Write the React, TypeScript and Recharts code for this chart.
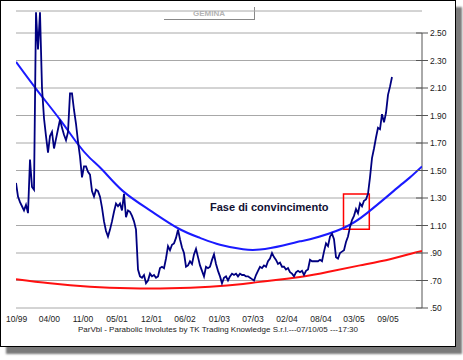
import { LineChart, Line, XAxis, YAxis, CartesianGrid, ReferenceLine, ReferenceArea } from 'recharts';

const priceValues = [
  1.41, 1.31, 1.27, 1.24, 1.21, 1.25, 1.19, 1.58, 1.38, 1.36,
  2.65, 2.38, 2.65, 2.10, 1.88, 1.75, 1.63, 1.75, 1.78, 1.66,
  1.73, 1.80, 1.87, 1.81, 1.76, 1.72, 1.78, 2.06, 2.06, 1.94,
  1.84, 1.71, 1.60, 1.45, 1.53, 1.53, 1.49, 1.47, 1.35, 1.31,
  1.36, 1.35, 1.31, 1.23, 1.13, 1.06, 1.02, 1.07, 1.13, 1.20,
  1.26, 1.24, 1.26, 1.21, 1.33, 1.16, 1.21, 1.20, 1.17, 1.13,
  1.07, 0.78, 0.73, 0.72, 0.74, 0.68, 0.70, 0.75, 0.73, 0.74,
  0.72, 0.73, 0.79, 0.80, 0.79, 0.86, 0.95, 0.92, 0.96, 0.97,
  1.01, 1.07, 1.00, 0.94, 0.90, 0.80, 0.81, 0.84, 0.82, 0.89,
  0.93, 0.87, 0.81, 0.77, 0.73, 0.80, 0.79, 0.80, 0.85, 0.89,
  0.82, 0.77, 0.73, 0.68, 0.72, 0.73, 0.70, 0.73, 0.75, 0.74,
  0.75, 0.73, 0.75, 0.74, 0.74, 0.73, 0.73, 0.72, 0.71, 0.70,
  0.74, 0.77, 0.80, 0.79, 0.81, 0.80, 0.84, 0.86, 0.90, 0.87,
  0.85, 0.82, 0.83, 0.80, 0.80, 0.78, 0.79, 0.76, 0.75, 0.73,
  0.76, 0.77, 0.76, 0.77, 0.74, 0.77, 0.78, 0.85, 0.84, 0.84,
  0.84, 0.84, 0.85, 0.84, 0.91, 0.97, 0.95, 1.02, 1.04, 1.00,
  0.87, 0.86, 0.90, 0.91, 0.92, 0.98, 1.02, 1.09, 1.14, 1.17,
  1.22, 1.19, 1.26, 1.24, 1.28, 1.29, 1.33, 1.45, 1.59, 1.66,
  1.74, 1.81, 1.80, 1.91, 1.85, 1.92, 2.05, 2.11, 2.18,
];

// upper parabola (blue)
const upperT = [0, 10.5, 22, 30.5, 37, 43.5, 53.5, 67, 81, 92, 102, 113.5, 122, 133.5, 142, 147, 163.5, 175.5, 185.5, 192, 197, 203];
const upperV = [2.29, 2.085, 1.87, 1.70, 1.59, 1.50, 1.35, 1.21, 1.08, 1.01, 0.96, 0.927, 0.925, 0.955, 0.985, 1.0, 1.08, 1.19, 1.31, 1.39, 1.45, 1.53];

// lower parabola (red)
const lowerT = [0, 17, 37, 57, 77, 97, 113.5, 122, 142, 157, 172, 187, 197, 203];
const lowerV = [0.71, 0.68, 0.655, 0.643, 0.643, 0.655, 0.675, 0.69, 0.725, 0.765, 0.81, 0.855, 0.893, 0.915];

const xTicks = [0.3, 16.7, 33.5, 50.5, 67.8, 84.5, 101.7, 118.5, 135.5, 152.5, 169, 186];
const xLabels = ['10/99', '04/00', '11/00', '05/01', '12/01', '06/02', '01/03', '07/03', '02/04', '08/04', '03/05', '09/05'];

const yTicks = [0.5, 0.7, 0.9, 1.1, 1.3, 1.5, 1.7, 1.9, 2.1, 2.3, 2.5];
const yLabels = ['.50', '.70', '.90', '1.10', '1.30', '1.50', '1.70', '1.90', '2.10', '2.30', '2.50'];

const X_MAX = 203;
const BOX = { x1: 163.75, x2: 176.65, y1: 1.072, y2: 1.329 };

const priceData = priceValues.map((v, i) => ({ t: i, price: v }));
const upperData = upperT.map((t, i) => ({ t, v: upperV[i] }));
const lowerData = lowerT.map((t, i) => ({ t, v: lowerV[i] }));

const FONT = '"Liberation Sans", Arial, sans-serif';

const RightTick = (props: any) => {
  const { x, y, payload } = props;
  const idx = yTicks.indexOf(payload.value);
  return (
    <g>
      <line x1={x - 6} x2={x + 6} y1={y} y2={y} stroke="#555" strokeWidth={1} />
      <text x={x + 8} y={y} dy={3} fontSize={8.5} fontFamily={FONT} fill="#222">
        {idx >= 0 ? yLabels[idx] : payload.value}
      </text>
    </g>
  );
};

export default function App() {
  return (
    <div style={{ position: 'absolute', left: 0, top: 0, width: 463, height: 360, background: '#fff' }}>
      <div
        style={{
          position: 'absolute', left: 0, top: 0, width: 454, height: 345,
          border: '1px solid #000', boxShadow: '6px 7px 2px #7a7a7a', background: '#fff',
        }}
      />
      <div
        style={{
          position: 'absolute', left: 164, top: 7, width: 90, height: 12,
          borderRight: '1px solid #888', borderBottom: '1px solid #888',
          color: '#b4b4b4', fontFamily: FONT, fontWeight: 'bold', fontSize: 8,
          textAlign: 'center', lineHeight: '13px',
        }}
      >
        GEMINA
      </div>
      <div style={{ position: 'absolute', left: 0, top: 0 }}>
        <LineChart width={463} height={360} data={priceData} margin={{ top: 11, right: 6, bottom: 32, left: 16 }}>
          <CartesianGrid vertical={false} stroke="#a8a8a8" strokeWidth={1} />
          <XAxis
            dataKey="t"
            type="number"
            domain={[0, X_MAX]}
            ticks={xTicks}
            interval={0}
            allowDataOverflow
            axisLine={false}
            tickLine={false}
            height={20}
            tickFormatter={(v: number) => xLabels[xTicks.indexOf(v)] ?? ''}
            tick={{ fontSize: 8.5, fontFamily: FONT, fill: '#222' }}
          />
          <YAxis
            orientation="right"
            type="number"
            domain={[0.5, 2.66]}
            ticks={yTicks}
            interval={0}
            allowDataOverflow
            axisLine={false}
            tickLine={false}
            tickSize={0}
            tickMargin={0}
            width={35}
            tick={<RightTick />}
          />
          <ReferenceLine segment={[{ x: X_MAX, y: 0.5 }, { x: X_MAX, y: 2.5 }]} stroke="#555" strokeWidth={1} />
          <Line data={lowerData} dataKey="v" type="natural" stroke="#ff1010" strokeWidth={2} dot={false} isAnimationActive={false} />
          <Line data={upperData} dataKey="v" type="natural" stroke="#1a1aff" strokeWidth={2} dot={false} isAnimationActive={false} />
          <Line dataKey="price" type="linear" stroke="#000080" strokeWidth={1.8} dot={false} isAnimationActive={false} />
          <ReferenceArea x1={BOX.x1} x2={BOX.x2} y1={BOX.y1} y2={BOX.y2} fill="none" fillOpacity={0} stroke="#ff0000" strokeWidth={1.5} ifOverflow="visible" />
        </LineChart>
      </div>
      <div
        style={{
          position: 'absolute', left: 210, top: 201, fontFamily: FONT, fontWeight: 'bold',
          fontSize: 11, color: '#111133', whiteSpace: 'nowrap',
        }}
      >
        Fase di convincimento
      </div>
      <div
        style={{
          position: 'absolute', left: 0, width: 436, top: 325, textAlign: 'center',
          fontFamily: FONT, fontSize: 8, color: '#222', whiteSpace: 'nowrap',
        }}
      >
        ParVbl - Parabolic Involutes by TK Trading Knowledge S.r.l.---07/10/05 ---17:30
      </div>
    </div>
  );
}
